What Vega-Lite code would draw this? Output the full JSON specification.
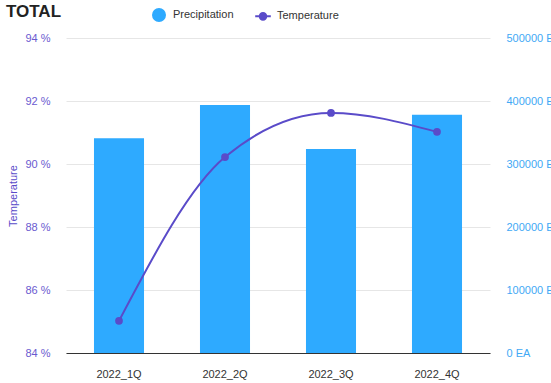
{
  "$schema": "https://vega.github.io/schema/vega-lite/v6.json",
  "width": 424,
  "height": 315,
  "autosize": {"type": "none"},
  "padding": {"left": 66, "top": 38, "right": 61, "bottom": 30},
  "title": {"text": "TOTAL", "anchor": "start", "frame": "bounds", "fontSize": 17, "fontWeight": "bold", "color": "#222222", "font": "Liberation Sans", "offset": 12, "dy": 25, "dx": -2},
  "config": {
    "font": "Liberation Sans",
    "view": {"stroke": null},
    "axis": {"labelFont": "Liberation Sans", "titleFont": "Liberation Sans", "labelFontSize": 11}
  },
  "data": {
    "values": [
      {"quarter": "2022_1Q", "precipitation": 341000, "temperature": 85.02},
      {"quarter": "2022_2Q", "precipitation": 393500, "temperature": 90.22},
      {"quarter": "2022_3Q", "precipitation": 324000, "temperature": 91.62},
      {"quarter": "2022_4Q", "precipitation": 378000, "temperature": 91.02}
    ]
  },
  "encoding": {
    "x": {
      "field": "quarter", "type": "nominal", "sort": null,
      "scale": {"paddingInner": 0.528, "paddingOuter": 0.264},
      "axis": {"title": null, "labelAngle": 0, "ticks": false, "domainColor": "#333333", "domainWidth": 1.2, "labelPadding": 15, "labelColor": "#333333", "labelFontSize": 11, "grid": false}
    }
  },
  "layer": [
    {
      "mark": {"type": "bar", "color": "#2eaaff"},
      "encoding": {
        "y": {
          "field": "precipitation", "type": "quantitative",
          "scale": {"domain": [0, 500000], "nice": false},
          "axis": {"orient": "right", "title": null, "values": [0, 100000, 200000, 300000, 400000, 500000], "labelExpr": "datum.value + ' EA'", "labelColor": "#3fa9f5", "ticks": false, "domain": false, "grid": false, "labelPadding": 16}
        },
        "color": {
          "datum": "Precipitation", "type": "nominal",
          "scale": {"domain": ["Precipitation", "Temperature"], "range": ["#2eaaff", "#5a4bc9"]},
          "legend": {
            "title": null, "orient": "none", "legendX": 86, "legendY": -30, "direction": "horizontal",
            "symbolSize": 144, "labelFontSize": 11, "labelColor": "#333333", "labelOffset": 7, "columnPadding": 17,
            "symbolStrokeWidth": 2,
            "encode": {
              "symbols": {
                "update": {
                  "shape": {"signal": "datum.value === 'Temperature' ? 'M-1.3,0L1.3,0M-0.55,0A0.55,0.55,0,1,0,0.55,0A0.55,0.55,0,1,0,-0.55,0Z' : 'circle'"},
                  "strokeWidth": {"value": 2}
                }
              }
            }
          }
        }
      }
    },
    {
      "mark": {"type": "line", "interpolate": "monotone", "strokeWidth": 2, "point": {"filled": true, "size": 60}},
      "encoding": {
        "y": {
          "field": "temperature", "type": "quantitative",
          "scale": {"domain": [84, 94], "nice": false, "zero": false},
          "axis": {"orient": "left", "title": "Temperature", "titleColor": "#5a4bc9", "titleFontWeight": "normal", "titleFontSize": 11, "titlePadding": 6, "values": [84, 86, 88, 90, 92, 94], "labelExpr": "datum.value + ' %'", "labelColor": "#6a5ad0", "ticks": false, "domain": false, "grid": true, "gridColor": "#e6e6e6", "labelPadding": 16}
        },
        "color": {"datum": "Temperature", "type": "nominal"}
      }
    }
  ],
  "resolve": {"scale": {"y": "independent"}, "axis": {"y": "independent"}}
}
